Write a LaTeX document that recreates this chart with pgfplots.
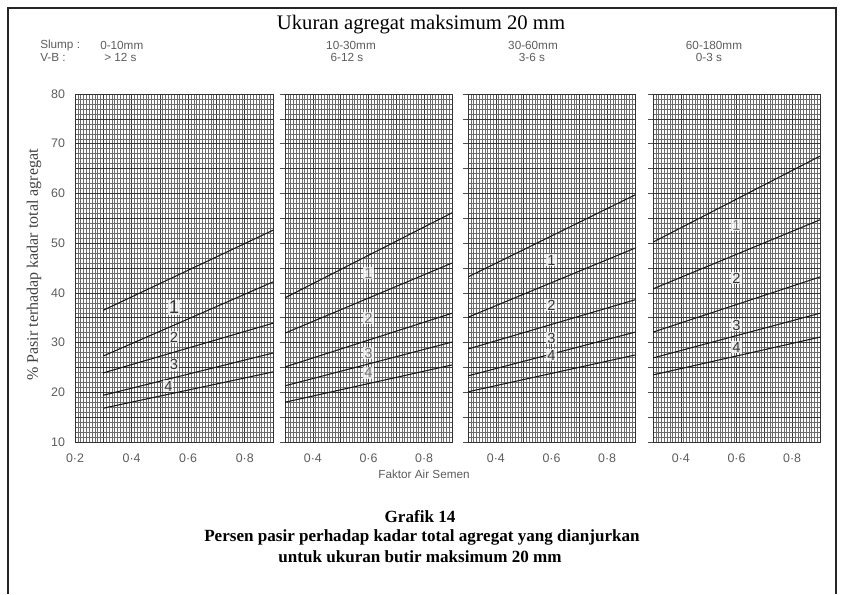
\documentclass[border=0pt]{standalone}
\usepackage{fontspec}
\setmainfont{Liberation Serif}
\setsansfont{Liberation Sans}
\usepackage{pgfplots}
\pgfplotsset{compat=1.18}

\definecolor{inkgray}{gray}{0.36}
\definecolor{gridminor}{gray}{0.42}
\definecolor{gridmajor}{gray}{0.22}

\tikzset{
  zoneline/.style={black!90, line width=0.8pt},
  zone/.style={font=\sffamily\fontsize{11}{13}\selectfont, text=black!80,
    fill=white, fill opacity=0.75, text opacity=1, inner sep=0.8pt},
}

\pgfplotsset{
  panel/.style={
    scale only axis,
    anchor=south west,
    width=125.25pt, height=261pt,
    xmin=0.3, xmax=0.9, ymin=10, ymax=80,
    xtick={0.3,0.4,0.5,0.6,0.7,0.8,0.9},
    xticklabels={,0·4,,0·6,,0·8,},
    ytick={10,15,20,25,30,35,40,45,50,55,60,65,70,75,80},
    yticklabels={},
    minor x tick num=9,
    minor y tick num=4,
    grid=both,
    minor grid style={gridminor, line width=0.3pt},
    major grid style={gridmajor, line width=0.45pt},
    axis line style={black!80, line width=0.6pt},
    xtick style={draw=none},
    ytick style={black!70, line width=0.5pt},
    minor tick length=0pt,
    major tick length=4pt,
    tick align=outside,
    xtick pos=bottom, ytick pos=left,
    tick label style={font=\sffamily\fontsize{9.3}{11}\selectfont, text=inkgray},
    xticklabel style={yshift=-1pt},
  },
}

\begin{document}
\begin{tikzpicture}
\path[use as bounding box] (0,0) rectangle (630.75pt,445.5pt);

% page frame
\draw[black!85, line width=1.5pt] (6pt,0pt) -- (6pt,439.5pt) -- (627pt,439.5pt) -- (627pt,0pt);

% title
\node[font=\fontsize{15.5}{18}\selectfont] at (315.75pt,427pt) {Ukuran agregat maksimum 20 mm};

% workability headers
\begin{scope}[every node/.style={font=\sffamily\fontsize{8.8}{10}\selectfont, text=inkgray, inner sep=0pt}]
  \node[anchor=west] at (30pt,411.5pt) {Slump :};
  \node[anchor=west] at (30pt,402.5pt) {V-B :};
  \node[anchor=west] at (75pt,411.5pt) {0-10mm};
  \node[anchor=west] at (78pt,402.5pt) {> 12 s};
  \node at (263.25pt,411.5pt) {10-30mm};
  \node at (260.25pt,402.5pt) {6-12 s};
  \node at (399.75pt,411.5pt) {30-60mm};
  \node at (399pt,402.5pt) {3-6 s};
  \node at (535.5pt,411.5pt) {60-180mm};
  \node at (531.75pt,402.5pt) {0-3 s};
\end{scope}

% panel 1: slump 0-10 mm
\begin{axis}[panel, at={(56.25pt,114pt)}, width=148.5pt,
  xmin=0.2,
  xtick={0.2,0.3,0.4,0.5,0.6,0.7,0.8,0.9},
  xticklabels={0·2,,0·4,,0·6,,0·8,},
  yticklabels={10,,20,,30,,40,,50,,60,,70,,80},
  ytick style={draw=none}]
  \addplot[zoneline] coordinates {(0.3,36.5) (0.9,52.6)};
  \addplot[zoneline] coordinates {(0.3,27.3) (0.9,42.2)};
  \addplot[zoneline] coordinates {(0.3,23.9) (0.9,33.9)};
  \addplot[zoneline] coordinates {(0.3,19.4) (0.9,27.9)};
  \addplot[zoneline] coordinates {(0.3,16.8) (0.9,24.1)};
  \node[zone, font=\sffamily\fontsize{14}{16}\selectfont] at (axis cs:0.55,37.1) {1};
  \node[zone] at (axis cs:0.55,31.1) {2};
  \node[zone] at (axis cs:0.55,25.5) {3};
  \node[zone] at (axis cs:0.53,21.2) {4};
\end{axis}

% panel 2: slump 10-30 mm
\begin{axis}[panel, at={(213.75pt,114pt)}]
  \addplot[zoneline] coordinates {(0.3,39.0) (0.9,56.1)};
  \addplot[zoneline] coordinates {(0.3,31.9) (0.9,46.0)};
  \addplot[zoneline] coordinates {(0.3,25.1) (0.9,35.9)};
  \addplot[zoneline] coordinates {(0.3,21.3) (0.9,30.1)};
  \addplot[zoneline] coordinates {(0.3,18.0) (0.9,25.5)};
  \node[zone, text=black!55] at (axis cs:0.6,44.0) {1};
  \node[zone, text=black!55] at (axis cs:0.6,34.9) {2};
  \node[zone, text=black!55] at (axis cs:0.6,27.9) {3};
  \node[zone, text=black!55] at (axis cs:0.6,23.9) {4};
\end{axis}

% panel 3: slump 30-60 mm
\begin{axis}[panel, at={(351pt,114pt)}]
  \addplot[zoneline] coordinates {(0.3,43.2) (0.9,59.7)};
  \addplot[zoneline] coordinates {(0.3,35.1) (0.9,49.0)};
  \addplot[zoneline] coordinates {(0.3,28.7) (0.9,38.6)};
  \addplot[zoneline] coordinates {(0.3,23.3) (0.9,32.1)};
  \addplot[zoneline] coordinates {(0.3,20.1) (0.9,27.5)};
  \node[zone] at (axis cs:0.6,46.6) {1};
  \node[zone] at (axis cs:0.6,37.5) {2};
  \node[zone] at (axis cs:0.6,30.9) {3};
  \node[zone] at (axis cs:0.6,27.5) {4};
\end{axis}

% panel 4: slump 60-180 mm
\begin{axis}[panel, at={(489.75pt,114pt)}]
  \addplot[zoneline] coordinates {(0.3,50.2) (0.9,67.5)};
  \addplot[zoneline] coordinates {(0.3,40.8) (0.9,54.7)};
  \addplot[zoneline] coordinates {(0.3,32.1) (0.9,43.2)};
  \addplot[zoneline] coordinates {(0.3,26.9) (0.9,35.9)};
  \addplot[zoneline] coordinates {(0.3,23.5) (0.9,31.1)};
  \node[zone, text=black!55] at (axis cs:0.6,53.6) {1};
  \node[zone] at (axis cs:0.6,43.0) {2};
  \node[zone] at (axis cs:0.6,33.5) {3};
  \node[zone] at (axis cs:0.6,29.1) {4};
\end{axis}

% axis titles
\node[rotate=90, font=\fontsize{12}{14}\selectfont, text=black!75] at (25.5pt,246.75pt) {\% Pasir terhadap kadar total agregat};
\node[font=\sffamily\fontsize{8.8}{10}\selectfont, text=inkgray] at (318pt,90pt) {Faktor Air Semen};

% caption
\begin{scope}[every node/.style={font=\bfseries\fontsize{12.8}{15}\selectfont}]
  \node at (315pt,57.75pt) {Grafik 14};
  \node at (316.5pt,42.75pt) {Persen pasir perhadap kadar total agregat yang dianjurkan};
  \node at (315pt,27.75pt) {untuk ukuran butir maksimum 20 mm};
\end{scope}
\end{tikzpicture}
\end{document}
